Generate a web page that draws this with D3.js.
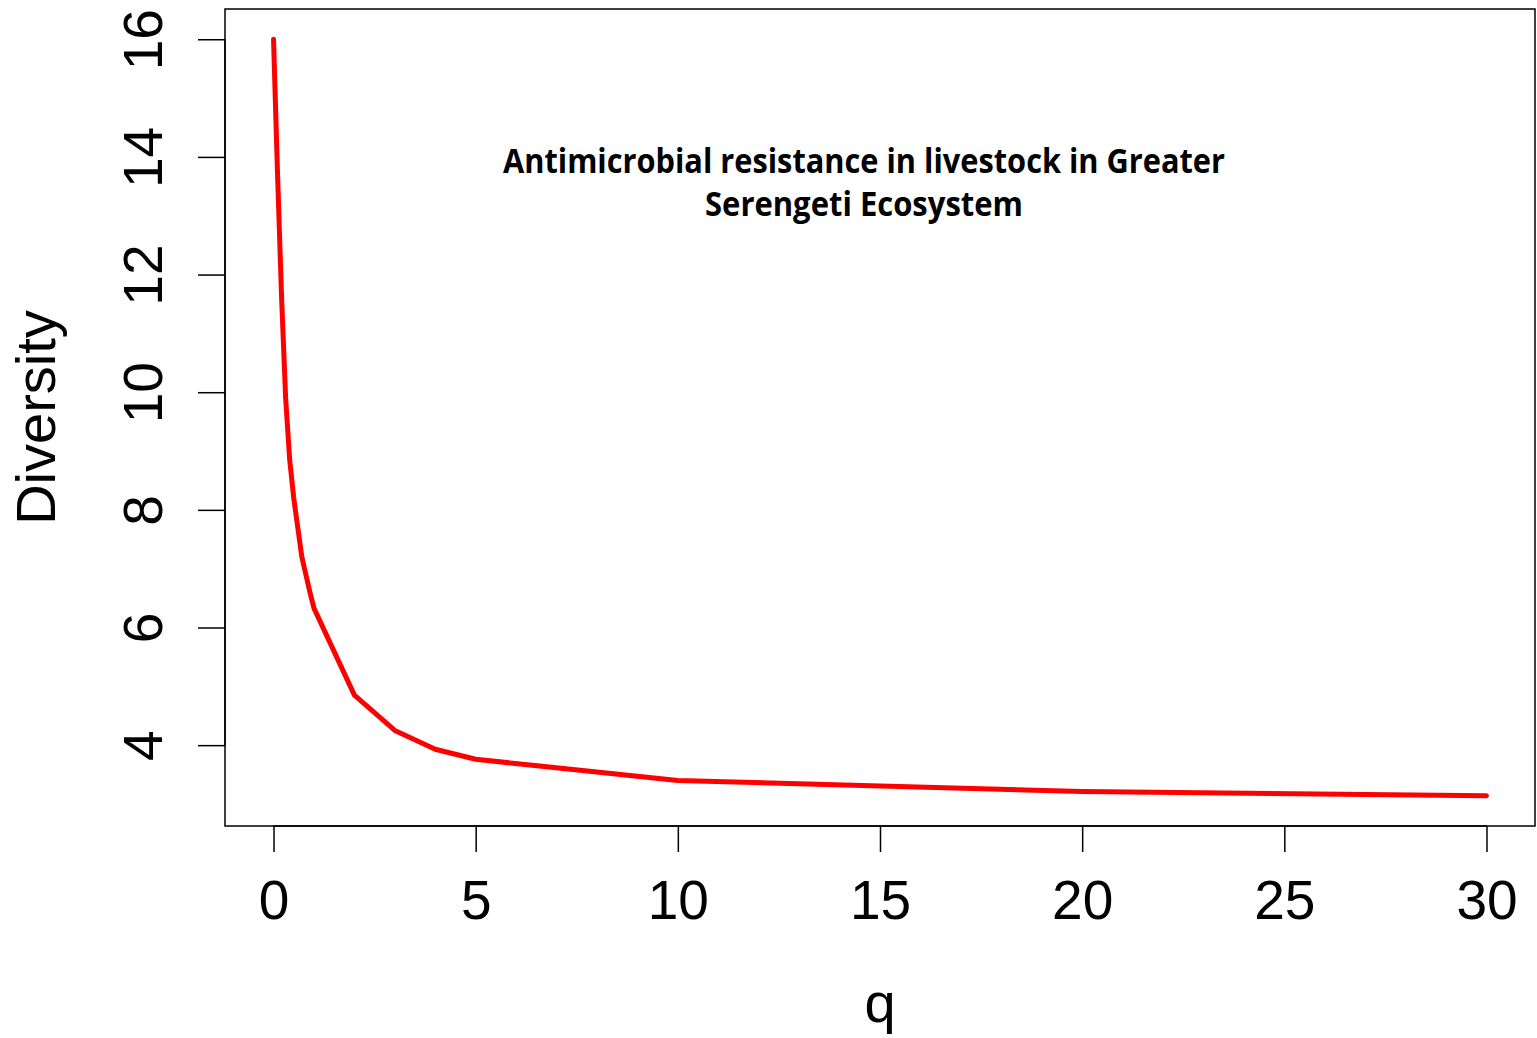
<!DOCTYPE html>
<html>
<head>
<meta charset="utf-8">
<script src="https://cdn.jsdelivr.net/npm/d3@7"></script>
<style>
  body { margin: 0; background: #fff; }
</style>
</head>
<body>
<div id="chart"></div>
<script>
var qOrder = [0, 0.1, 0.2, 0.3, 0.4, 0.5, 0.6, 0.7, 0.8, 0.9, 1, 2, 3, 4, 5, 10, 20, 30];
var diversity = [16, 13.7, 11.6, 9.9, 8.85, 8.2, 7.7, 7.2, 6.9, 6.6, 6.33, 4.85, 4.25, 3.93, 3.76, 3.40, 3.21, 3.14];
var xTicks = [0, 5, 10, 15, 20, 25, 30];
var yTicks = [4, 6, 8, 10, 12, 14, 16];
var titleLines = ["Antimicrobial resistance in livestock in Greater", "Serengeti Ecosystem"];

var W = 1537, H = 1038;
var margin = {top: 9, right: 2, bottom: 212, left: 225};
var w = W - margin.left - margin.right;
var h = H - margin.top - margin.bottom;

var svg = d3.select("#chart")
    .append("svg")
    .attr("width", W)
    .attr("height", H)
  .append("g")
    .attr("transform", "translate(" + margin.left + "," + margin.top + ")");

// R style 4% padding of the data range
var xr = d3.extent(qOrder), yr = d3.extent(diversity);
var xp = (xr[1] - xr[0]) * 0.04, yp = (yr[1] - yr[0]) * 0.04;

var x = d3.scaleLinear().domain([xr[0] - xp, xr[1] + xp]).range([0, w]);
var y = d3.scaleLinear().domain([yr[0] - yp, yr[1] + yp]).range([h, 0]);

var font = "'Liberation Sans', Arial, Helvetica, sans-serif";

// x axis
var xAxis = svg.append("g")
    .attr("transform", "translate(0," + h + ")")
    .call(d3.axisBottom(x).tickValues(xTicks).tickSize(26).tickPadding(30).tickSizeOuter(0));
xAxis.select(".domain")
    .attr("d", "M" + x(xTicks[0]) + ",0H" + x(xTicks[xTicks.length - 1]))
    .attr("stroke-width", 1.5);
xAxis.selectAll(".tick line").attr("stroke-width", 1.5);
xAxis.selectAll(".tick text")
    .attr("font-family", font)
    .attr("font-size", "55px")
    .attr("fill", "#000")
    .attr("dy", null)
    .attr("y", 93);

// y axis, labels parallel to the axis
var yAxis = svg.append("g")
    .call(d3.axisLeft(y).tickValues(yTicks).tickSize(27).tickSizeOuter(0));
yAxis.select(".domain")
    .attr("d", "M0," + y(yTicks[0]) + "V" + y(yTicks[yTicks.length - 1]))
    .attr("stroke-width", 1.5);
yAxis.selectAll(".tick line").attr("stroke-width", 1.5);
yAxis.selectAll(".tick text")
    .attr("font-family", font)
    .attr("font-size", "55px")
    .attr("fill", "#000")
    .attr("text-anchor", "middle")
    .attr("x", null)
    .attr("dy", null)
    .attr("transform", "translate(-63,0) rotate(-90)");

// plot box
svg.append("rect")
    .attr("x", 0)
    .attr("y", 0)
    .attr("width", w)
    .attr("height", h)
    .attr("fill", "none")
    .attr("stroke", "#000")
    .attr("stroke-width", 1.5);

// curve
var line = d3.line()
    .x(function(d, i) { return x(qOrder[i]); })
    .y(function(d) { return y(d); });

svg.append("path")
    .datum(diversity)
    .attr("d", line)
    .attr("fill", "none")
    .attr("stroke", "#ff0000")
    .attr("stroke-width", 5)
    .attr("stroke-linecap", "round")
    .attr("stroke-linejoin", "round");

// axis titles
svg.append("text")
    .attr("x", w / 2)
    .attr("y", 1022 - margin.top)
    .attr("text-anchor", "middle")
    .attr("font-family", font)
    .attr("font-size", "56px")
    .text("q");

svg.append("text")
    .attr("transform", "translate(" + (55 - margin.left) + "," + (h / 2) + ") rotate(-90)")
    .attr("text-anchor", "middle")
    .attr("font-family", font)
    .attr("font-size", "56px")
    .text("Diversity");

// title inside the plot
var titleLens = [722, 318];
svg.selectAll("text.title")
    .data(titleLines)
    .enter()
    .append("text")
    .attr("class", "title")
    .attr("x", 864 - margin.left)
    .attr("y", function(d, i) { return 173 - margin.top + i * 43; })
    .attr("text-anchor", "middle")
    .attr("font-family", "'Open Sans', 'Noto Sans', sans-serif")
    .attr("font-weight", "bold")
    .attr("font-size", "34px")
    .attr("textLength", function(d, i) { return titleLens[i]; })
    .attr("lengthAdjust", "spacingAndGlyphs")
    .text(function(d) { return d; });
</script>
</body>
</html>
